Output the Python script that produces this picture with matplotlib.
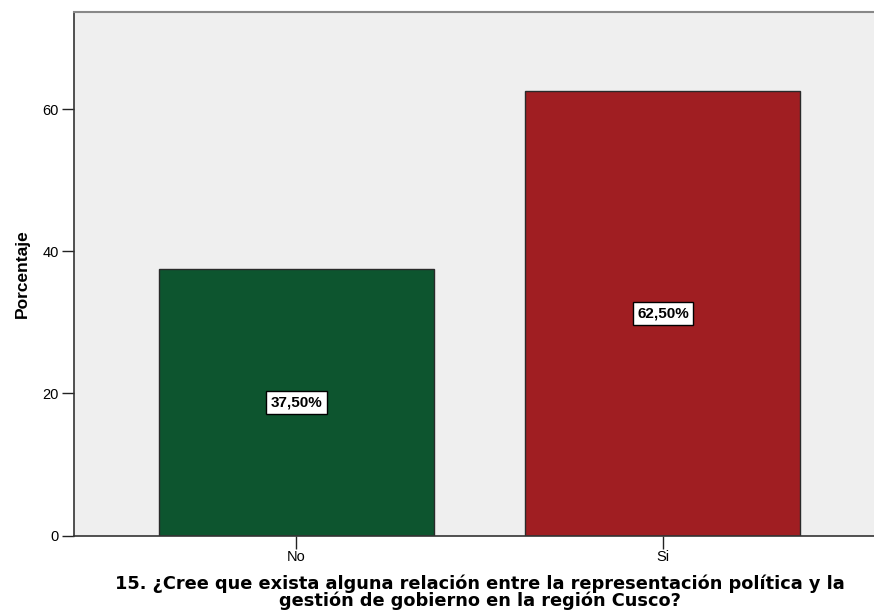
import matplotlib
matplotlib.use("Agg")
import matplotlib.pyplot as plt

categories = ["No", "Si"]
values = [37.5, 62.5]
labels = ["37,50%", "62,50%"]
yticks = [0, 20, 40, 60]
colors = ["#0d552f", "#a01e22"]

plt.rcParams['font.family'] = ['Liberation Sans', 'DejaVu Sans']

W, H = 874, 610
L, B, T = 73.5, 535.5, 12
fig = plt.figure(figsize=(W/100, H/100), dpi=100)
axw = (W - L) / W + 0.02
ax = fig.add_axes([L/W, (H-B)/H, axw, (B-T)/H])
ax.set_facecolor("#efefef")

x = list(range(len(categories)))
ax.bar(x, values, width=0.75, color=colors, edgecolor="#2a2a2a", linewidth=1.0, zorder=2)
for xi, v, lab in zip(x, values, labels):
    ax.text(xi, v / 2, lab, ha="center", va="center", fontsize=11, fontweight="bold",
            bbox=dict(boxstyle="square,pad=0.28", facecolor="white", edgecolor="black", linewidth=1.0),
            zorder=3)

ax.set_xlim(-0.608, 1.576 + 0.02 * W / 366.5)
ax.set_ylim(0, 73.65)
ax.set_xticks(x)
ax.set_xticklabels(categories, fontsize=10.5)
ax.set_yticks(yticks)
ax.set_yticklabels([str(t) for t in yticks], fontsize=10.5)
ax.tick_params(axis="both", direction="out", length=9, width=1.0, color="#222222", pad=1.5)
ax.set_ylabel("Porcentaje", fontsize=12.5, fontweight="bold")
ax.yaxis.set_label_coords((30 - L) / (axw * W), 0.5)
ax.set_xlabel("15. ¿Cree que exista alguna relación entre la representación política y la\ngestión de gobierno en la región Cusco?",
              fontsize=12.8, fontweight="bold", family="DejaVu Sans", linespacing=0.88)
ax.xaxis.set_label_coords((480 - L) / (axw * W), -(592 - B) / (B - T))
ax.xaxis.label.set_verticalalignment("center")

for s in ["left", "bottom"]:
    ax.spines[s].set_color("#333333")
    ax.spines[s].set_linewidth(1.2)
ax.spines["top"].set_color("#888888")
ax.spines["top"].set_linewidth(1.5)
ax.spines["right"].set_visible(False)

fig.savefig("out.png", dpi=100)
